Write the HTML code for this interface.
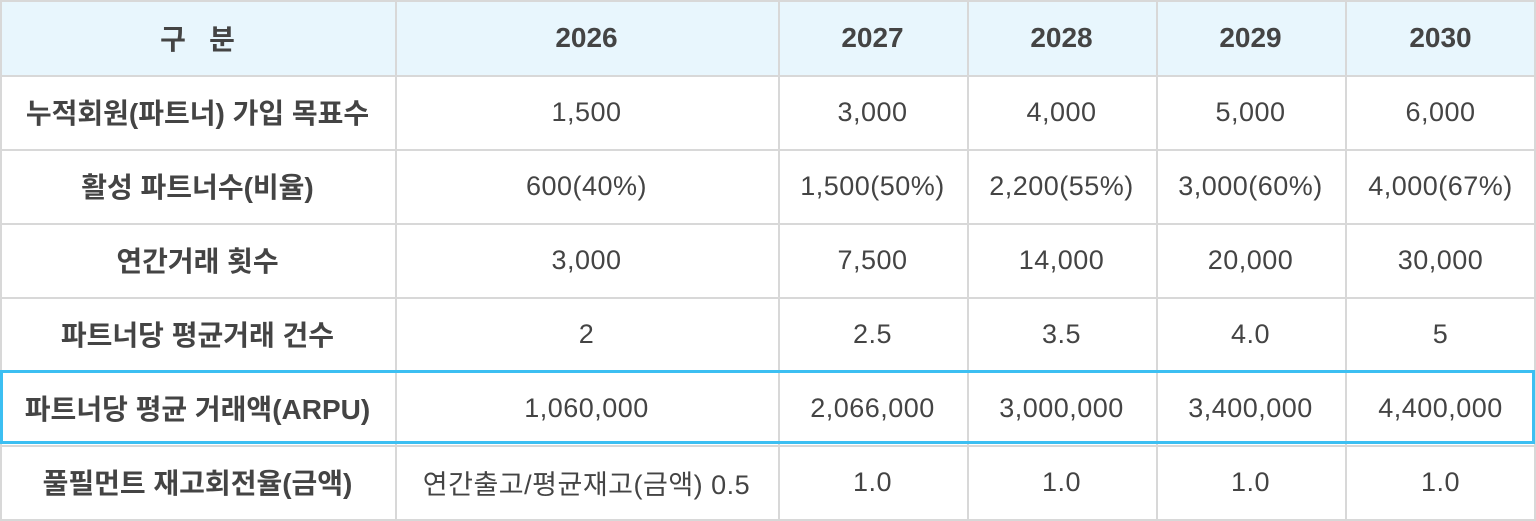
<!DOCTYPE html>
<html><head><meta charset="utf-8"><style>
*{margin:0;padding:0;box-sizing:border-box}
body{width:1536px;height:520px;background:#fff;position:relative;overflow:hidden;font-family:"Liberation Sans","Noto Sans CJK KR",sans-serif;color:#444}
.c{position:absolute;display:flex;align-items:center;justify-content:center;font-size:27px;letter-spacing:0.5px;white-space:nowrap}
.h{background:#e8f6fd;font-weight:bold}
.b{font-weight:bold;font-size:28px;letter-spacing:0}
.vl{position:absolute;top:0;height:520px;width:2px;background:#d8d8d8}
.hl{position:absolute;left:0;width:1536px;height:2px;background:#d8d8d8}
</style></head><body>
<div class="c h" style="left:0;top:0;width:1536px;height:75px"></div>
<div id="g"></div>
<script>
var xs=[0,395,778,967,1156,1345,1536],ys=[0,75,149,223,297,371,445,519];
var d=[["구&nbsp;&nbsp;&nbsp;분","2026","2027","2028","2029","2030"],
["누적회원(파트너) 가입 목표수","1,500","3,000","4,000","5,000","6,000"],
["활성 파트너수(비율)","600(40%)","1,500(50%)","2,200(55%)","3,000(60%)","4,000(67%)"],
["연간거래 횟수","3,000","7,500","14,000","20,000","30,000"],
["파트너당 평균거래 건수","2","2.5","3.5","4.0","5"],
["파트너당 평균 거래액(ARPU)","1,060,000","2,066,000","3,000,000","3,400,000","4,400,000"],
["풀필먼트 재고회전율(금액)","연간출고/평균재고(금액) 0.5","1.0","1.0","1.0","1.0"]];
var h="";
for(var r=0;r<7;r++)for(var c=0;c<6;c++){
h+='<div class="c'+(r==0||c==0?' b':'')+'" style="left:'+xs[c]+'px;top:'+ys[r]+'px;width:'+(xs[c+1]-xs[c])+'px;height:'+(ys[r+1]-ys[r])+'px">'+d[r][c]+'</div>';}
for(var i=0;i<xs.length;i++)h+='<div class="vl" style="left:'+Math.min(xs[i],1534)+'px"></div>';
for(var i=0;i<ys.length;i++)h+='<div class="hl" style="top:'+ys[i]+'px"></div>';
h+='<div style="position:absolute;left:0;top:370px;width:1535px;height:74px;border:3px solid #3cbff2"></div>';
document.getElementById("g").innerHTML=h;
</script>
</body></html>
